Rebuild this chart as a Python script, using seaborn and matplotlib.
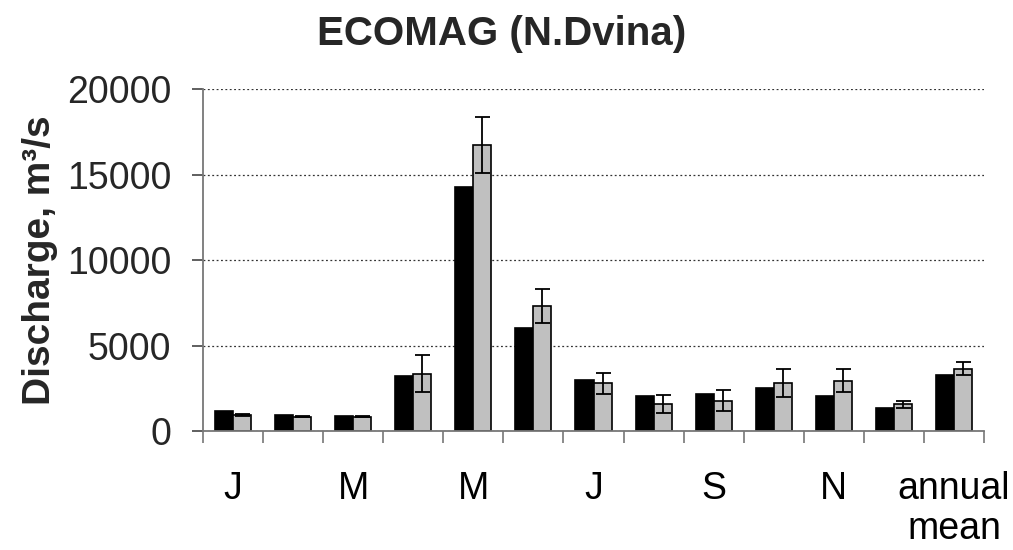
import matplotlib
matplotlib.use("Agg")
import matplotlib.pyplot as plt
import seaborn as sns
import pandas as pd
import numpy as np
from matplotlib.ticker import FixedLocator

categories = ["Jan", "Feb", "Mar", "Apr", "May", "Jun", "Jul", "Aug", "Sep", "Oct", "Nov", "Dec", "annual mean"]
tick_labels = ["J", "", "M", "", "M", "", "J", "", "S", "", "N", "", "annual\nmean"]
observed = [1170, 960, 860, 3220, 14260, 6010, 2970, 2050, 2190, 2500, 2050, 1330, 3280]
simulated = [960, 840, 840, 3360, 16740, 7320, 2790, 1560, 1780, 2790, 2950, 1560, 3650]
simulated_err = [60, 40, 30, 1090, 1650, 1015, 615, 520, 615, 830, 660, 220, 380]
series_names = ["observed", "ECOMAG"]

sns.set_theme(style="white")
plt.rcParams["font.family"] = ["Liberation Sans", "DejaVu Sans"]

df = pd.DataFrame({
    "month": categories * 2,
    "discharge": observed + simulated,
    "series": [series_names[0]] * len(categories) + [series_names[1]] * len(categories),
})

fig = plt.figure(figsize=(10.13, 5.5), dpi=100)
ax = fig.add_axes([0.2004, 0.2164, 0.7710, 0.6212])

sns.barplot(data=df, x="month", y="discharge", hue="series", order=categories,
            hue_order=series_names, palette=["black", "#c0c0c0"], width=0.6,
            edgecolor="black", linewidth=1.2, errorbar=None, legend=False,
            saturation=1, ax=ax)

grey = ax.containers[1]
centers = [p.get_x() + p.get_width() / 2 for p in grey]
ax.errorbar(centers, simulated, yerr=simulated_err, fmt="none", ecolor="black",
            elinewidth=1.3, capsize=5.4, capthick=1.3, zorder=5)

ax.set_ylim(0, 20000)
ax.set_xlim(-0.5, len(categories) - 0.5)
ax.set_yticks([0, 5000, 10000, 15000, 20000])
ax.yaxis.grid(True, linestyle=(0, (1.5, 2)), color="#333333", linewidth=0.9)
ax.set_axisbelow(True)

for s in ["top", "right"]:
    ax.spines[s].set_visible(False)
for s in ["left", "bottom"]:
    ax.spines[s].set_color("#777777")
    ax.spines[s].set_linewidth(1.3)

ax.set_xticks(range(len(categories)))
ax.set_xticklabels(tick_labels, fontsize=27, linespacing=1.15)
ax.xaxis.set_minor_locator(FixedLocator(np.arange(-0.5, len(categories), 1.0)))
ax.tick_params(axis="x", which="major", length=0, pad=29, colors="black")
ax.tick_params(axis="x", which="minor", length=8.5, width=1.2, color="#777777", direction="out", bottom=True)
ax.tick_params(axis="y", which="major", length=8, width=1.2, color="#444444", direction="out", labelsize=27, pad=15, left=True)
for lab in ax.get_xticklabels():
    lab.set_verticalalignment("top")

ax.set_xlabel("")
ax.set_ylabel("Discharge, m³/s", fontsize=28, fontweight="bold")
ax.yaxis.set_label_coords(-0.186, 0.5)

fig.suptitle("ECOMAG (N.Dvina)", fontsize=29, fontweight="bold", x=0.495, y=0.972)

fig.savefig("out.png", dpi=100)
